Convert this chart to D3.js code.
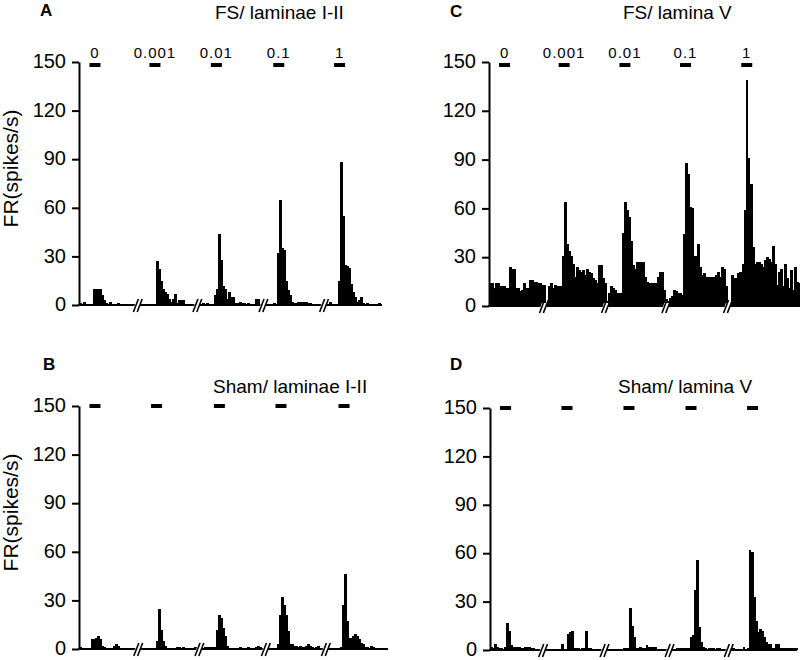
<!DOCTYPE html>
<html><head><meta charset="utf-8">
<script src="https://cdn.jsdelivr.net/npm/d3@7"></script>
<style>
body{margin:0;background:#fff;}
svg text{font-family:"Liberation Sans",Arial,Helvetica,sans-serif;fill:#000;}
</style></head><body>
<svg id="chart" width="800" height="660"></svg>
<script>
// ---------- data ----------
const yTicks = [0, 30, 60, 90, 120, 150];
const doseLabels = ["0", "0.001", "0.01", "0.1", "1"];
const panelLetters = ["A", "B", "C", "D"];
const panelTitles = ["FS/ laminae I-II", "Sham/ laminae I-II", "FS/ lamina V", "Sham/ lamina V"];
const yLabel = "FR(spikes/s)";

// firing rate per time bin (spikes/s); the five dose epochs are concatenated
const ratesA = [
 1,0,2,0,0,0,0,10,10,10,
 10,6,3,1,0,2,0,0,0,1,
 0,0,0,0,0,0,0,0,0,0,
 0,0,0,0,0,0,0,0,27,22,
 15,10,8,7,4,2,4,7,1,3,
 3,3,0,0,0,0,0,0,0,0,
 0,1,0,1,0,0,0,6,10,44,
 28,12,10,4,8,5,5,1,1,2,
 1,1,0,1,0,0,0,4,4,0,
 0,0,0,0,0,0,1,0,32,65,
 35,34,15,9,6,2,1,1,2,2,
 2,2,2,1,1,0,0,0,0,0,
 0,0,0,0,2,0,0,0,15,88,
 55,25,24,23,13,8,5,2,3,5,
 1,0,1,0,0,0,0,0,1,0];
const ratesB = [
 1,0,0,0,0,0,6,6,7,8,
 6,2,1,0,0,0,0,2,3,2,
 0,0,0,0,0,0,0,0,0,0,
 0,0,0,0,0,0,0,0,5,25,
 12,5,2,0,0,0,0,0,1,1,
 0,1,0,0,0,0,0,1,1,0,
 0,0,1,1,1,1,1,1,12,21,
 19,13,8,2,0,0,0,0,0,1,
 0,0,0,1,0,0,0,1,2,1,
 0,0,0,0,0,0,0,0,3,21,
 32,27,21,11,3,3,2,2,1,2,
 1,1,2,3,2,1,0,1,2,0,
 0,0,0,0,0,0,0,0,0,1,
 27,46,17,7,7,8,9,8,6,4,
 3,1,1,0,2,1,0,0,0,0,
 0,0,0];
const ratesC = [
 14,14,11,14,14,12,12,12,11,11,
 24,23,23,11,11,9,10,14,11,11,
 16,16,15,15,14,14,13,13,2,12,
 14,11,13,12,12,12,31,64,38,34,
 31,26,18,24,22,21,22,19,23,21,
 20,17,16,14,25,25,17,14,3,8,
 12,11,10,8,8,8,45,64,59,55,
 40,25,23,27,27,27,27,18,15,14,
 14,14,14,18,21,21,10,4,3,5,
 6,10,9,8,8,7,44,88,81,61,
 60,31,31,38,24,19,20,18,18,18,
 18,18,19,21,18,24,23,12,0,0,
 19,17,17,20,21,26,59,139,91,75,
 36,26,27,27,26,24,28,30,29,27,
 37,26,13,21,23,12,26,17,11,22,
 10,24,15,14];
const ratesD = [
 2,1,4,2,1,1,0,2,17,12,
 3,2,2,2,2,1,1,2,2,2,
 1,1,0,0,0,0,0,0,0,0,
 0,0,0,0,0,4,0,0,10,11,
 12,1,1,1,0,1,1,12,1,1,
 0,0,0,0,0,0,0,0,0,0,
 0,0,0,0,0,0,1,1,1,26,
 15,8,1,1,2,1,1,3,2,2,
 2,2,0,0,0,0,0,0,0,0,
 0,0,1,1,1,1,1,1,1,8,
 9,37,56,14,5,2,1,0,1,1,
 1,0,1,1,0,0,0,0,0,0,
 1,0,0,0,0,2,0,1,62,61,
 33,18,11,13,12,8,5,4,4,1,
 1,4,4,1,1,1,1,1,1,1,
 1,1];

// time-axis breaks between epochs (in bin units)
const breaksA = [29.3, 58.8, 91.5, 121.5];
const breaksB = [29.5, 59.8, 92.7, 122.4];
const breaksC = [27.4, 58.1, 88.0, 118.5];
const breaksD = [26.5, 56.9, 89.1, 118.4];
// stimulus (dose application) centres (in bin units)
const stimA = [7.9, 37.6, 68.0, 98.9, 129.0];
const stimB = [7.9, 38.4, 69.5, 100.0, 131.2];
const stimC = [7.7, 37.2, 67.3, 97.3, 127.6];
const stimD = [7.7, 38.1, 68.8, 99.5, 130.0];

// ---------- layout ----------
const BIN_PX = 2.02;
const panels = [
  {data: ratesA, breaks: breaksA, stim: stimA, letter: 0, title: 0, x0: 79, xEnd: 382, yBase: 305, yTop: 62,
   letterPos: [40, 16], titlePos: [215, 19], dose: true, ylab: true, stimDy: 1},
  {data: ratesB, breaks: breaksB, stim: stimB, letter: 1, title: 1, x0: 79, xEnd: 388, yBase: 649, yTop: 406,
   letterPos: [43, 370], titlePos: [213, 393], dose: false, ylab: true, stimDy: -2},
  {data: ratesC, breaks: breaksC, stim: stimC, letter: 2, title: 2, x0: 489, xEnd: 800, yBase: 306, yTop: 62,
   letterPos: [450, 17], titlePos: [623, 19], dose: true, ylab: false, stimDy: 1},
  {data: ratesD, breaks: breaksD, stim: stimD, letter: 3, title: 3, x0: 490, xEnd: 797, yBase: 650, yTop: 408,
   letterPos: [450, 370], titlePos: [618, 393], dose: false, ylab: false, stimDy: -2}
];

const svg = d3.select("#chart");

panels.forEach(p => {
  const g = svg.append("g");
  const n = p.data.length;
  const xs = d3.scaleLinear().domain([0, n]).range([p.x0, p.x0 + n * BIN_PX]);
  const ys = d3.scaleLinear().domain([0, 150]).range([p.yBase, p.yTop]);

  // histogram bars
  g.append("g").attr("shape-rendering", "crispEdges").selectAll("rect")
    .data(p.data.map((v, i) => ({v, i})).filter(d => d.v > 0))
    .join("rect")
    .attr("x", d => xs(d.i))
    .attr("width", d => xs(d.i + 1) - xs(d.i) + 0.9)
    .attr("y", d => ys(d.v))
    .attr("height", d => ys(0) - ys(d.v))
    .attr("fill", "#000");

  // baseline
  g.append("line")
    .attr("x1", p.x0 - 1).attr("x2", p.xEnd)
    .attr("y1", ys(0)).attr("y2", ys(0))
    .attr("stroke", "#000").attr("stroke-width", 2);

  // y axis
  const ax = g.append("g")
    .attr("transform", `translate(${p.x0},0)`)
    .call(d3.axisLeft(ys).tickValues(yTicks).tickSize(7).tickSizeOuter(0).tickPadding(6));
  ax.select(".domain").attr("stroke", "#000").attr("stroke-width", 2);
  ax.selectAll(".tick line").attr("stroke", "#000").attr("stroke-width", 2);
  ax.selectAll(".tick text").attr("font-size", 20).attr("fill", "#000").attr("dy", "0.28em")
    .attr("font-family", "'Liberation Sans',Arial,sans-serif");

  // axis breaks "//"
  p.breaks.forEach(b => {
    const bx = xs(b), by = ys(0);
    const bg = g.append("g");
    bg.append("polygon")
      .attr("points", [[bx - 4.5, by + 3], [bx + 0.5, by + 3], [bx + 2.5, by - 3], [bx - 2.5, by - 3]].map(q => q.join(",")).join(" "))
      .attr("fill", "#fff");
    [-2.2, 1.6].forEach(off => {
      bg.append("line")
        .attr("x1", bx + off - 2.6).attr("y1", by + 7)
        .attr("x2", bx + off + 2.4).attr("y2", by - 6)
        .attr("stroke", "#000").attr("stroke-width", 1.6);
    });
  });

  // stimulus bars
  g.append("g").selectAll("rect")
    .data(p.stim)
    .join("rect")
    .attr("x", d => xs(d) - 5.5)
    .attr("width", 11)
    .attr("y", ys(150) + p.stimDy)
    .attr("height", 4)
    .attr("fill", "#000");

  // dose labels
  if (p.dose) {
    g.append("g").selectAll("text")
      .data(p.stim)
      .join("text")
      .attr("x", d => xs(d))
      .attr("y", ys(150) - 4)
      .attr("text-anchor", "middle")
      .attr("font-size", 15)
      .attr("letter-spacing", 1)
      .text((d, i) => doseLabels[i]);
  }

  // panel letter and title
  g.append("text")
    .attr("x", p.letterPos[0]).attr("y", p.letterPos[1])
    .attr("font-size", 17).attr("font-weight", "bold")
    .text(panelLetters[p.letter]);
  g.append("text")
    .attr("x", p.titlePos[0]).attr("y", p.titlePos[1])
    .attr("font-size", 19)
    .text(panelTitles[p.title]);

  // y-axis label
  if (p.ylab) {
    const cy = (p.yBase + p.yTop) / 2 - 15;
    g.append("text")
      .attr("transform", `translate(18,${cy}) rotate(-90)`)
      .attr("text-anchor", "middle")
      .attr("font-size", 21)
      .text(yLabel);
  }
});
</script>
</body></html>
